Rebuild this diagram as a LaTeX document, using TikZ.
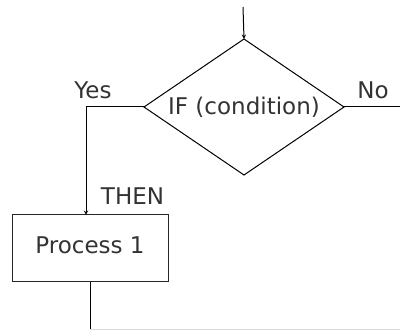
\documentclass[tikz,border=0pt]{standalone}
\usepackage{xcolor}
\usepackage{fontspec}
\setmainfont{DejaVu Sans}
\usepackage{tikz}
\usetikzlibrary{shapes.geometric}
\definecolor{inkgray}{HTML}{333333}
\tikzstyle{decision} = [diamond, aspect=1.47, minimum width=200pt, minimum height=136pt, inner sep=0pt, outer sep=0pt, text centered, draw=black, text=inkgray]
\tikzstyle{process} = [rectangle, minimum width=156pt, minimum height=67pt, inner sep=0pt, outer sep=0pt, text height=17pt, text depth=6pt, text centered, draw=black!85, text=inkgray]
\tikzstyle{label} = [anchor=base, inner sep=0pt, text=inkgray]
\tikzstyle{arrow} = [->, >=stealth]
\begin{document}
\begin{tikzpicture}[x=1pt, y=-1pt, line width=1pt, every node/.style={font=\fontsize{23}{27}\selectfont}]
	\useasboundingbox (0,0) rectangle (400,331);

	\node (cond) [decision] at (244,107) {IF (condition)};
	\node (proc) [process] at (90,248.5) {Process 1};

	\node (yes) [label] at (93,99) {Yes};
	\node (no) [label] at (373,99) {No};
	\node (then) [label] at (132.5,205) {THEN};

	\coordinate (entry) at (243,7);
	\coordinate (noend) at (400,107);
	\coordinate (join) at (90,330);
	\coordinate (outend) at (400,330);

	\draw [arrow] (entry) -- (cond.north);
	\draw (cond.east) -- (noend);
	\draw [arrow] (cond.west) -| ([xshift=-4pt]proc.north);
	\draw (proc.south) -- (join);
	\draw [black!15] (join) -- (outend);

\end{tikzpicture}
\end{document}
